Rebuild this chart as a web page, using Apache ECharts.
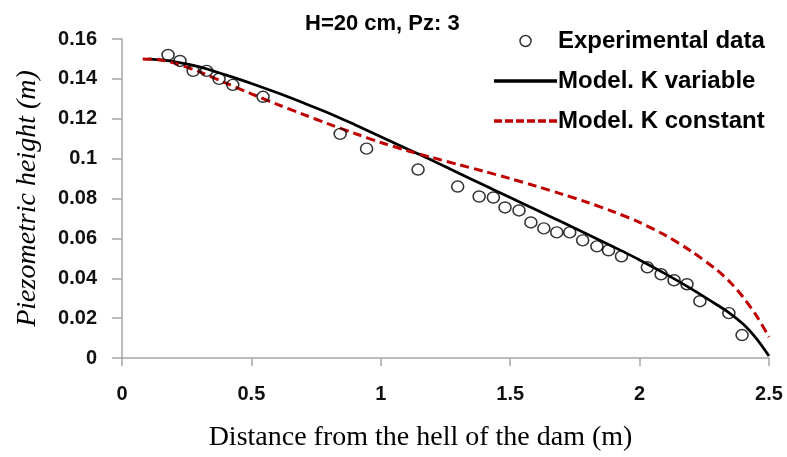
<!DOCTYPE html>
<html>
<head>
<meta charset="utf-8">
<script src="https://cdn.jsdelivr.net/npm/echarts@6/dist/echarts.min.js"></script>
<style>html,body{margin:0;padding:0;background:#fff}#c{width:787px;height:457px}</style>
</head>
<body>
<div id="c"></div>
<script>
const titleText = 'H=20 cm, Pz: 3';
const seriesNames = ['Experimental data', 'Model. K variable', 'Model. K constant'];
const xTicks = [0, 0.5, 1, 1.5, 2, 2.5];
const yTicks = [0, 0.02, 0.04, 0.06, 0.08, 0.1, 0.12, 0.14, 0.16];

const expX = [0.178, 0.224, 0.275, 0.327, 0.375, 0.428, 0.545, 0.843, 0.945, 1.144, 1.297, 1.38, 1.435, 1.48, 1.534, 1.58, 1.63, 1.68, 1.73, 1.78, 1.835, 1.88, 1.93, 2.03, 2.083, 2.133, 2.183, 2.233, 2.345, 2.396];
const expY = [0.152, 0.149, 0.144, 0.144, 0.140, 0.137, 0.131, 0.1124, 0.105, 0.0945, 0.086, 0.081, 0.0805, 0.0755, 0.074, 0.068, 0.065, 0.063, 0.063, 0.059, 0.056, 0.054, 0.051, 0.0455, 0.042, 0.039, 0.037, 0.0285, 0.0225, 0.0115];

const kVarX = [0.10, 0.20, 0.30, 0.40, 0.50, 0.60, 0.70, 0.80, 0.90, 1.00, 1.10, 1.20, 1.30, 1.40, 1.50, 1.60, 1.70, 1.80, 1.90, 2.00, 2.10, 2.20, 2.30, 2.35, 2.40, 2.45, 2.50];
const kVarY = [0.1500, 0.1487, 0.1460, 0.1420, 0.1377, 0.1330, 0.1280, 0.1228, 0.1170, 0.1110, 0.1050, 0.0990, 0.0928, 0.0866, 0.0805, 0.0743, 0.0682, 0.0620, 0.0557, 0.0492, 0.0422, 0.0347, 0.0266, 0.0223, 0.0170, 0.0100, 0.0010];

const kConstX = [0.08, 0.15, 0.20, 0.30, 0.40, 0.50, 0.60, 0.70, 0.80, 0.90, 1.00, 1.10, 1.20, 1.30, 1.40, 1.50, 1.60, 1.70, 1.80, 1.90, 2.00, 2.10, 2.20, 2.30, 2.35, 2.40, 2.45, 2.50];
const kConstY = [0.1500, 0.1495, 0.1480, 0.1435, 0.1380, 0.1325, 0.1272, 0.1222, 0.1173, 0.1126, 0.1081, 0.1041, 0.1005, 0.0970, 0.0936, 0.0900, 0.0862, 0.0822, 0.0780, 0.0733, 0.0680, 0.0615, 0.0535, 0.0440, 0.0380, 0.0305, 0.0215, 0.0105];

const zip = (xs, ys) => xs.map((x, i) => [x, ys[i]]);

const solidIcon = 'path://M0,0h63v3.5h-63z';
const dashIcon = 'path://M0,0h8v3.5h-8zM11,0h8v3.5h-8zM22,0h8v3.5h-8zM33,0h8v3.5h-8zM44,0h8v3.5h-8zM55,0h8v3.5h-8z';

const chart = echarts.init(document.getElementById('c'), null, {renderer: 'canvas'});
const axisColor = '#a6a6a6';
chart.setOption({
  animation: false,
  backgroundColor: '#fff',
  title: {
    text: titleText,
    left: 300, top: 8,
    textStyle: {fontFamily: 'Liberation Sans', fontWeight: 'bold', fontSize: 22, color: '#000'}
  },
  legend: {
    orient: 'vertical',
    left: 489, top: 24,
    itemWidth: 63, itemHeight: 11, itemGap: 16,
    textStyle: {fontFamily: 'Liberation Sans', fontWeight: 'bold', fontSize: 24, lineHeight: 24, color: '#000', padding: [0, 0, 0, -4]},
    data: [
      {name: seriesNames[0], icon: 'circle', itemStyle: {color: 'transparent', borderColor: '#000', borderWidth: 1.5}},
      {name: seriesNames[1], icon: solidIcon, itemStyle: {color: '#000', borderWidth: 0}},
      {name: seriesNames[2], icon: dashIcon, itemStyle: {color: '#c00000', borderWidth: 0}}
    ]
  },
  grid: {left: 122, right: 18, top: 39, bottom: 98, containLabel: false},
  xAxis: {
    type: 'value', min: xTicks[0], max: xTicks[xTicks.length - 1], interval: 0.5,
    name: 'Distance from the hell of the dam (m)',
    nameLocation: 'middle', nameGap: 66,
    nameTextStyle: {fontFamily: 'Liberation Serif', fontSize: 28, color: '#000', padding: [0, 50, 0, 0]},
    axisLine: {show: true, lineStyle: {color: axisColor, width: 1.5}},
    axisTick: {show: true, inside: false, length: 8, lineStyle: {color: axisColor, width: 1.5}},
    splitLine: {show: false},
    axisLabel: {margin: 26, fontFamily: 'Liberation Sans', fontWeight: 'bold', fontSize: 20, color: '#111'}
  },
  yAxis: {
    type: 'value', min: yTicks[0], max: yTicks[yTicks.length - 1], interval: 0.02,
    name: 'Piezometric height (m)',
    nameLocation: 'middle', nameGap: 80, nameRotate: 90,
    nameTextStyle: {fontFamily: 'Liberation Serif', fontStyle: 'italic', fontSize: 28, color: '#000'},
    axisLine: {show: true, lineStyle: {color: axisColor, width: 1.5}},
    axisTick: {show: true, inside: false, length: 10, lineStyle: {color: axisColor, width: 1.5}},
    splitLine: {show: false},
    axisLabel: {margin: 25, fontFamily: 'Liberation Sans', fontWeight: 'bold', fontSize: 20, color: '#111'}
  },
  series: [
    {
      name: seriesNames[1], type: 'line', data: zip(kVarX, kVarY),
      smooth: 0.3, symbol: 'none', showSymbol: false, z: 2, color: '#000',
      lineStyle: {color: '#000', width: 2.75}
    },
    {
      name: seriesNames[2], type: 'line', data: zip(kConstX, kConstY),
      smooth: 0.3, symbol: 'none', showSymbol: false, z: 3, color: '#c00000',
      lineStyle: {color: '#c00000', width: 3, type: [9, 5]}
    },
    {
      name: seriesNames[0], type: 'scatter', data: zip(expX, expY),
      symbol: 'circle', symbolSize: [12, 11], z: 4,
      itemStyle: {color: 'transparent', borderColor: '#000', borderWidth: 1.5}
    }
  ]
});
</script>
</body>
</html>
